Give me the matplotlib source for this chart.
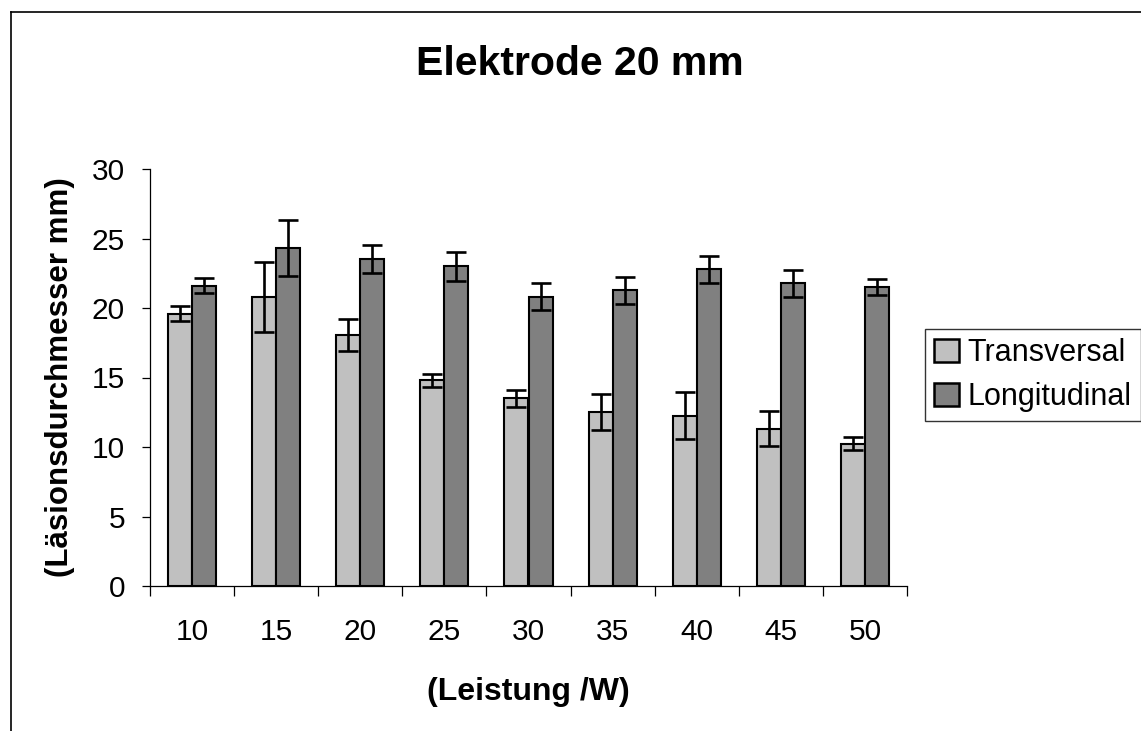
"""Bar chart of lesion diameter per power level for the 20 mm electrode."""
import matplotlib
matplotlib.use("Agg")
import matplotlib.pyplot as plt
import numpy as np
from matplotlib.lines import Line2D
from matplotlib.patches import Patch

plt.rcParams["font.family"] = ["Liberation Sans", "DejaVu Sans"]

# Data
leistung = ["10", "15", "20", "25", "30", "35", "40", "45", "50"]
transversal = [19.6, 20.8, 18.05, 14.8, 13.5, 12.5, 12.25, 11.3, 10.25]
transversal_err = [0.55, 2.5, 1.15, 0.48, 0.6, 1.3, 1.7, 1.26, 0.5]
longitudinal = [21.6, 24.3, 23.5, 23.0, 20.8, 21.27, 22.8, 21.78, 21.5]
longitudinal_err = [0.55, 2.0, 1.0, 1.03, 0.97, 0.96, 0.97, 0.96, 0.58]

W, H = 1141, 731
fig = plt.figure(figsize=(W / 100, H / 100), dpi=100)
ax = fig.add_axes([150 / W, 1 - 586 / H, (907 - 150) / W, (586 - 169) / H])

x = np.arange(len(leistung))
width = 1 / 3.5
err_kw = dict(ecolor="black", elinewidth=1.9, capsize=7.5, capthick=1.9)

ax.bar(x - width / 2, transversal, width, yerr=transversal_err,
       color="#c0c0c0", edgecolor="black", linewidth=1.5,
       error_kw=err_kw, label="Transversal")
ax.bar(x + width / 2, longitudinal, width, yerr=longitudinal_err,
       color="#808080", edgecolor="black", linewidth=1.5,
       error_kw=err_kw, label="Longitudinal")

ax.set_xlim(-0.5, len(leistung) - 0.5)
ax.set_ylim(0, 30)
ax.set_yticks(range(0, 31, 5))
ax.set_xticks(x)
ax.set_xticklabels(leistung)
ax.set_xticks(np.arange(-0.5, len(leistung)), minor=True)

ax.tick_params(axis="x", which="major", length=0, pad=23, labelsize=21.5)
ax.tick_params(axis="x", which="minor", length=7, width=0.9, direction="out")
ax.tick_params(axis="y", length=6, width=0.9, pad=12, labelsize=21.5)

for side in ("top", "right"):
    ax.spines[side].set_visible(False)
for side in ("left", "bottom"):
    ax.spines[side].set_linewidth(0.9)

# Title and axis labels
fig.text(580 / W, 1 - 75 / H, "Elektrode 20 mm", ha="center", va="baseline",
         fontsize=29.5, fontweight="bold")
fig.text(528 / W, 1 - 700 / H, "(Leistung /W)", ha="center", va="baseline",
         fontsize=23, fontweight="bold")
fig.text(60 / W, 1 - 377 / H, "(Läsionsdurchmesser mm)", ha="center",
         va="center", rotation=90, fontsize=22.5, fontweight="bold")

# Legend
handles = [Patch(facecolor="#c0c0c0", edgecolor="black", linewidth=1.8),
           Patch(facecolor="#808080", edgecolor="black", linewidth=1.8)]
leg = fig.legend(handles, ["Transversal", "Longitudinal"],
                 loc="upper left", bbox_to_anchor=(925 / W, 1 - 329 / H),
                 fontsize=22, frameon=True, fancybox=False, edgecolor="black",
                 handlelength=0.8, handleheight=0.8, handletextpad=0.3,
                 borderpad=0.3, labelspacing=0.45, borderaxespad=0)
leg.get_frame().set_linewidth(1.0)

# Outer chart border (left and top edges visible)
fig.add_artist(Line2D([11 / W, 11 / W], [0, 1 - 12 / H], color="black", linewidth=1.2))
fig.add_artist(Line2D([11 / W, 1], [1 - 12 / H, 1 - 12 / H], color="black", linewidth=1.2))

fig.savefig("out.png", dpi=100)
